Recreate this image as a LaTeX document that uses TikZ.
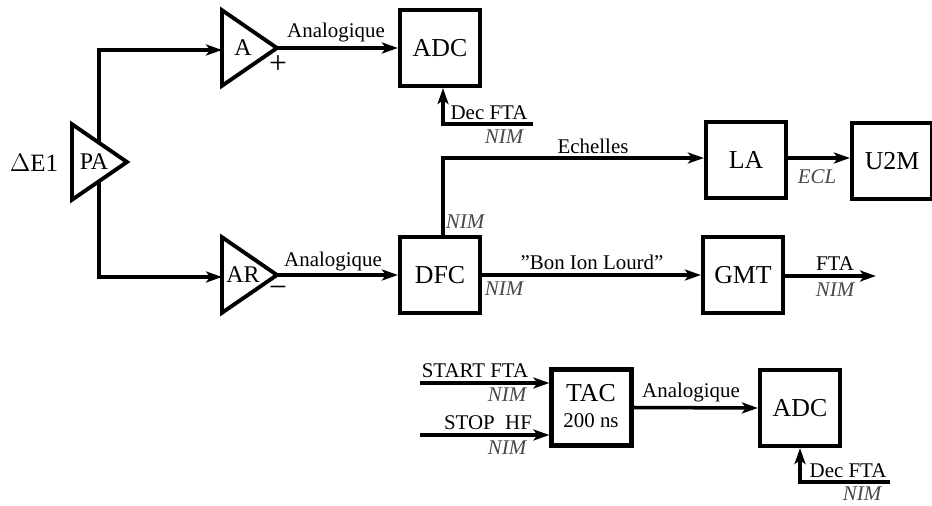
\documentclass[tikz,border=0pt]{standalone}
\usepackage{fontspec}
\setmainfont{Liberation Serif}
\usetikzlibrary{arrows.meta,shapes.geometric}
\tikzset{
  sig/.style={line width=2pt,-{Stealth[length=0.32cm,width=0.22cm,inset=0.08cm]}},
  boxnode/.style={draw,line width=2.4pt,minimum width=1.6cm,minimum height=1.52cm,inner sep=0,font=\fontsize{14.7}{16}\selectfont},
  amp/.style={draw,line width=2.2pt,isosceles triangle,isosceles triangle apex angle=69,minimum height=1.1cm,inner sep=0,outer sep=0},
  lab/.style={inner sep=0,font=\fontsize{11.9}{13}\selectfont},
  std/.style={inner sep=0,font=\fontsize{11.9}{13}\selectfont\itshape,text=black!72},
  big/.style={inner sep=0,font=\fontsize{13.6}{15}\selectfont}
}
\begin{document}
\begin{tikzpicture}[x=0.02cm,y=-0.02cm]
\useasboundingbox (0,0) rectangle (932,506);
% amplifiers
\node[amp,anchor=lower side] (PA) at (72,162) {};
\node[amp,anchor=lower side] (A) at (222,48) {};
\node[amp,anchor=lower side] (AR) at (222,275) {};
\node[big] (PAtxt) at (94,162) {PA};
\node[big] (Atxt) at (243,48) {A};
\node[big] (ARtxt) at (243,275) {AR};
\node[big,font=\fontsize{14.2}{15}\selectfont] (DE) at (34,163) {$\Delta$E1};
\node[big,font=\fontsize{18}{19}\selectfont] (plus) at (278,65) {+};
\node[big,font=\fontsize{18}{19}\selectfont] (minus) at (278,292) {\textminus};
% boxes
\node[boxnode] (ADCa) at (440,48) {ADC};
\node[boxnode] (DFC) at (440,275) {DFC};
\node[boxnode] (LA) at (746,160) {LA};
\node[boxnode] (UM) at (892,161) {U2M};
\node[boxnode] (GMT) at (743,275) {GMT};
\node[boxnode] (TAC) at (591.5,407.5) {};
\node[boxnode] (ADCb) at (800,408) {ADC};
\node[inner sep=0,font=\fontsize{14.7}{16}\selectfont] (TACa) at (591,393) {TAC};
\node[lab] (TACb) at (591,421) {200 ns};
% free ends
\coordinate (paup) at (99,143);
\coordinate (padn) at (99,181);
\coordinate (ain) at (222,50);
\coordinate (arin) at (222,277);
\coordinate (deca) at (533,124);
\coordinate (decb) at (890,482);
\coordinate (fta) at (876,276);
\coordinate (starta) at (420,383);
\coordinate (stopa) at (420,435);
% connectors
\draw[sig] (paup) |- (ain);
\draw[sig] (padn) |- (arin);
\draw[sig] (A.apex) -- (ADCa.west |- A.apex);
\draw[sig] (AR.apex) -- (DFC.west |- AR.apex);
\draw[sig] (deca) -| ([xshift=0.06cm]ADCa.south);
\draw[sig] ([xshift=0.06cm]DFC.north) |- (LA.west |- 0,158);
\draw[sig] (LA.east |- 0,158) -- (UM.west |- 0,158);
\draw[sig] (DFC.east) -- (GMT.west);
\draw[sig] (GMT.east |- fta) -- (fta);
\draw[sig] (starta) -- (TAC.west |- starta);
\draw[sig] (stopa) -- (TAC.west |- stopa);
\draw[sig] (TAC.east) -- (ADCb.west);
\draw[sig] (decb) -| (ADCb.south);
% labels
\node[lab] (ana) at (336,33) {Analogique};
\node[lab] (anb) at (333,262) {Analogique};
\node[lab] (anc) at (691,393) {Analogique};
\node[lab] (deco) at (489,113) {Dec FTA};
\node[std] (nima) at (504,137) {NIM};
\node[std] (nimb) at (465,222) {NIM};
\node[std] (nimc) at (504,289) {NIM};
\node[lab] (ech) at (593,146) {Echelles};
\node[std] (ecl) at (817,177) {ECL};
\node[lab] (bil) at (592,262) {”Bon Ion Lourd”};
\node[lab] (ftao) at (835,264) {FTA};
\node[std] (nimd) at (835,290) {NIM};
\node[lab] (start) at (475,371) {START FTA};
\node[std] (nime) at (507,395) {NIM};
\node[lab] (stop) at (488,423) {STOP\ \ HF};
\node[std] (nimf) at (507,448) {NIM};
\node[lab] (decp) at (848,471) {Dec FTA};
\node[std] (nimg) at (862,494) {NIM};
\end{tikzpicture}
\end{document}
